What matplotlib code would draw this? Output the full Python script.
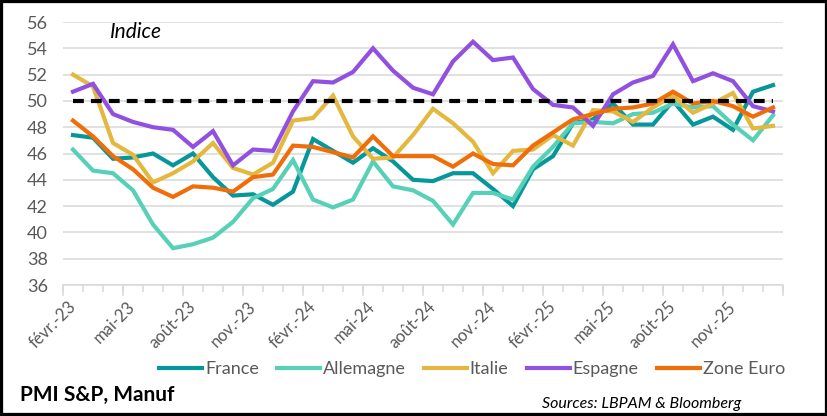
import numpy as np
import matplotlib
matplotlib.use('Agg')
import matplotlib.pyplot as plt
from matplotlib.patches import Rectangle

plt.rcParams['font.family'] = ['Lato', 'DejaVu Sans']

# monthly PMI, févr.-23 to janv.-26
months = ['févr.-23', 'mars-23', 'avr.-23', 'mai-23', 'juin-23', 'juil.-23',
          'août-23', 'sept.-23', 'oct.-23', 'nov.-23', 'déc.-23', 'janv.-24',
          'févr.-24', 'mars-24', 'avr.-24', 'mai-24', 'juin-24', 'juil.-24',
          'août-24', 'sept.-24', 'oct.-24', 'nov.-24', 'déc.-24', 'janv.-25',
          'févr.-25', 'mars-25', 'avr.-25', 'mai-25', 'juin-25', 'juil.-25',
          'août-25', 'sept.-25', 'oct.-25', 'nov.-25', 'déc.-25', 'janv.-26']

france = [47.4, 47.2, 45.6, 45.7, 46.0, 45.1, 46.0, 44.2, 42.8, 42.9, 42.1, 43.1,
          47.1, 46.2, 45.3, 46.4, 45.4, 44.0, 43.9, 44.5, 44.5, 43.3, 42.0, 44.8,
          45.8, 48.3, 48.6, 49.8, 48.2, 48.2, 50.0, 48.2, 48.8, 47.8, 50.7, 51.2]
allemagne = [46.3, 44.7, 44.5, 43.2, 40.6, 38.8, 39.1, 39.6, 40.8, 42.6, 43.3, 45.5,
             42.5, 41.9, 42.5, 45.4, 43.5, 43.2, 42.4, 40.6, 43.0, 43.0, 42.5, 45.0,
             46.5, 48.3, 48.4, 48.3, 49.0, 49.1, 49.8, 49.5, 49.6, 48.2, 47.0, 48.9]
italie = [52.0, 51.1, 46.8, 45.9, 43.8, 44.5, 45.4, 46.8, 44.9, 44.4, 45.3, 48.5,
          48.7, 50.4, 47.3, 45.6, 45.7, 47.4, 49.4, 48.3, 46.9, 44.5, 46.2, 46.3,
          47.4, 46.6, 49.3, 49.2, 48.4, 49.5, 50.4, 49.1, 49.8, 50.6, 47.9, 48.1]
espagne = [50.7, 51.3, 49.0, 48.4, 48.0, 47.8, 46.5, 47.7, 45.1, 46.3, 46.2, 49.2,
           51.5, 51.4, 52.2, 54.0, 52.3, 51.0, 50.5, 53.0, 54.5, 53.1, 53.3, 50.9,
           49.7, 49.5, 48.1, 50.5, 51.4, 51.9, 54.3, 51.5, 52.1, 51.5, 49.6, 49.2]
zone_euro = [48.5, 47.3, 45.8, 44.8, 43.4, 42.7, 43.5, 43.4, 43.1, 44.2, 44.4, 46.6,
             46.5, 46.1, 45.7, 47.3, 45.8, 45.8, 45.8, 45.0, 46.0, 45.2, 45.1, 46.6,
             47.6, 48.6, 49.0, 49.4, 49.5, 49.8, 50.7, 49.8, 50.0, 49.6, 48.8, 49.5]
seuil = 50

series = [('France', france, '#07979a'),
          ('Allemagne', allemagne, '#56d1b7'),
          ('Italie', italie, '#e4b83f'),
          ('Espagne', espagne, '#9150e0'),
          ('Zone Euro', zone_euro, '#f06e0a')]

grey = '#d9d9d9'
txt = '#595959'

fig = plt.figure(figsize=(8.28, 4.16), dpi=100)
ax = fig.add_axes([63/828, 131/416, 720/828, 263/416])

x = np.arange(len(months))
for name, vals, col in series:
    ax.plot(x, vals, color=col, lw=3.0, label=name, solid_joinstyle='miter')
ax.plot(x, np.full(len(x), seuil), color='black', lw=3.0, ls=(0, (2.6, 1.7)), zorder=5)

ax.set_xlim(-0.5, len(months) - 0.5)
ax.set_ylim(36, 56)
ax.set_yticks(np.arange(36, 57, 2))
ax.grid(axis='y', color=grey, lw=1.1)
ax.set_axisbelow(True)
for s in ['top', 'right', 'left']:
    ax.spines[s].set_visible(False)
ax.spines['bottom'].set_color(grey)
ax.spines['bottom'].set_linewidth(1.1)
ax.tick_params(axis='y', length=0, pad=11, labelsize=13, labelcolor=txt)

# labels every 3 months, tick marks between categories
ax.set_xticks(x[::3])
ax.set_xticklabels(months[::3], rotation=45, ha='right', va='center',
                   rotation_mode='anchor')
ax.tick_params(axis='x', length=0, pad=14, labelsize=12, labelcolor=txt)
ax.set_xticks(np.arange(-0.5, len(months), 1), minor=True)
ax.tick_params(axis='x', which='minor', length=5, width=1.1, color=grey)
sec = ax.secondary_xaxis('bottom')
sec.set_xticks(np.arange(-0.5, len(months), 3))
sec.set_xticklabels([])
sec.tick_params(length=8, width=1.1, color=grey)
sec.spines['bottom'].set_visible(False)

ax.text(0.065, 0.962, 'Indice', transform=ax.transAxes, fontsize=15,
        style='italic', va='center', ha='left', color='black')

fig.legend(loc='center', bbox_to_anchor=(0.570, 0.113), ncol=5, frameon=False,
           fontsize=13, labelcolor=txt, handlelength=2.4, handletextpad=0.15,
           columnspacing=1.0)

fig.text(20/828, 1 - 395/416, 'PMI S&P, Manuf', fontsize=15, fontweight='bold',
         ha='left', va='center')
fig.text(542/828, 1 - 404/416, 'Sources: LBPAM & Bloomberg', fontsize=11.5,
         style='italic', ha='left', va='center')

fig.patches.append(Rectangle((0, 0), 1, 1, transform=fig.transFigure,
                             fill=False, ec='black', lw=4.5))

plt.savefig('out.png', dpi=100)
